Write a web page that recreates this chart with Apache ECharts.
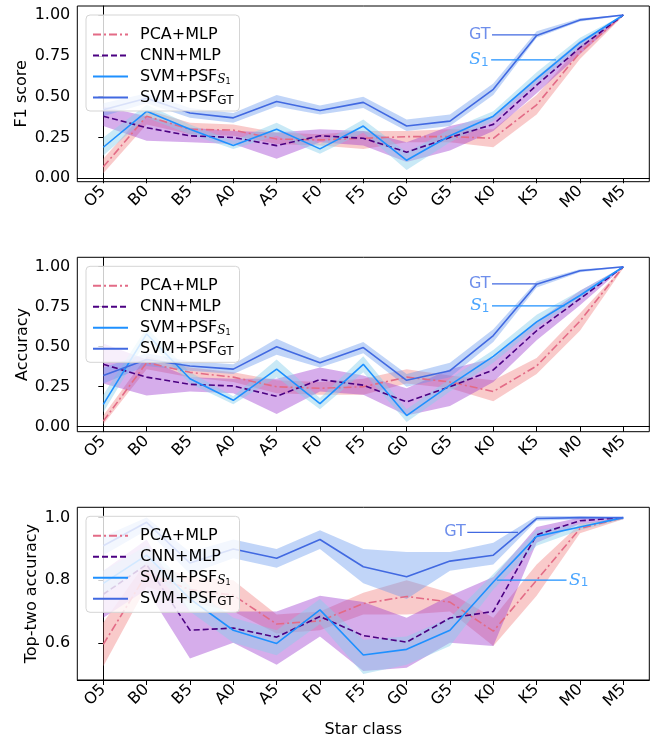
<!DOCTYPE html>
<html><head><meta charset="utf-8">
<script src="https://cdn.jsdelivr.net/npm/echarts@6/dist/echarts.min.js"></script>
<style>html,body{margin:0;padding:0;background:#fff}#c{width:666px;height:739px}</style>
</head><body><div id="c"></div>
<script>
const classes = ['O5','B0','B5','A0','A5','F0','F5','G0','G5','K0','K5','M0','M5'];
const names = ['PCA+MLP','CNN+MLP','SVM+PSF_S1','SVM+PSF_GT'];

// F1 score
const f1_pca    = [0.07,0.38,0.30,0.295,0.24,0.235,0.245,0.255,0.255,0.245,0.45,0.77,1.0];
const f1_pca_lo = [0.03,0.33,0.27,0.26,0.21,0.20,0.18,0.22,0.22,0.19,0.39,0.73,0.995];
const f1_pca_hi = [0.12,0.42,0.34,0.33,0.28,0.27,0.29,0.29,0.30,0.30,0.51,0.81,1.0];
const f1_cnn    = [0.38,0.31,0.26,0.25,0.20,0.26,0.245,0.16,0.25,0.33,0.57,0.80,1.0];
const f1_cnn_lo = [0.32,0.23,0.22,0.21,0.12,0.22,0.20,0.10,0.17,0.29,0.52,0.76,0.995];
const f1_cnn_hi = [0.44,0.38,0.31,0.29,0.28,0.30,0.29,0.22,0.32,0.38,0.62,0.84,1.0];
const f1_s1     = [0.19,0.41,0.30,0.20,0.30,0.18,0.32,0.11,0.26,0.38,0.61,0.83,1.0];
const f1_s1_lo  = [0.14,0.37,0.27,0.18,0.26,0.15,0.28,0.05,0.22,0.35,0.58,0.80,0.995];
const f1_s1_hi  = [0.25,0.45,0.33,0.23,0.34,0.21,0.36,0.16,0.30,0.41,0.65,0.86,1.0];
const f1_gt     = [0.42,0.49,0.40,0.37,0.47,0.415,0.465,0.32,0.35,0.545,0.875,0.97,1.0];
const f1_gt_lo  = [0.38,0.46,0.37,0.34,0.44,0.39,0.43,0.29,0.32,0.51,0.86,0.96,0.995];
const f1_gt_hi  = [0.46,0.52,0.43,0.40,0.51,0.445,0.50,0.36,0.39,0.58,0.90,0.98,1.0];

// Accuracy
const acc_pca    = [0.035,0.40,0.34,0.31,0.25,0.24,0.25,0.31,0.28,0.22,0.38,0.66,1.0];
const acc_pca_lo = [0.015,0.36,0.31,0.28,0.21,0.20,0.20,0.27,0.24,0.16,0.33,0.60,0.99];
const acc_pca_hi = [0.07,0.44,0.37,0.34,0.29,0.28,0.30,0.36,0.32,0.29,0.43,0.71,1.0];
const acc_cnn    = [0.39,0.31,0.265,0.255,0.19,0.295,0.26,0.155,0.25,0.355,0.60,0.80,1.0];
const acc_cnn_lo = [0.27,0.195,0.22,0.21,0.08,0.22,0.20,0.07,0.13,0.28,0.54,0.76,0.995];
const acc_cnn_hi = [0.52,0.42,0.31,0.30,0.30,0.37,0.32,0.24,0.36,0.43,0.66,0.85,1.0];
const acc_s1     = [0.14,0.58,0.30,0.165,0.36,0.145,0.39,0.07,0.26,0.44,0.655,0.82,1.0];
const acc_s1_lo  = [0.09,0.54,0.27,0.14,0.31,0.11,0.34,0.03,0.22,0.40,0.62,0.80,0.995];
const acc_s1_hi  = [0.20,0.62,0.34,0.19,0.42,0.18,0.44,0.11,0.30,0.48,0.70,0.85,1.0];
const acc_gt     = [0.32,0.42,0.38,0.36,0.50,0.40,0.495,0.29,0.35,0.57,0.89,0.975,1.0];
const acc_gt_lo  = [0.27,0.38,0.35,0.33,0.45,0.37,0.46,0.25,0.31,0.53,0.87,0.965,0.995];
const acc_gt_hi  = [0.37,0.46,0.41,0.39,0.55,0.43,0.53,0.33,0.40,0.61,0.91,0.985,1.0];

// Top-two accuracy
const t2_pca    = [0.595,0.82,0.77,0.752,0.66,0.67,0.725,0.748,0.73,0.637,0.80,0.965,1.0];
const t2_pca_lo = [0.525,0.78,0.73,0.70,0.63,0.64,0.69,0.69,0.70,0.59,0.75,0.95,0.995];
const t2_pca_hi = [0.665,0.86,0.81,0.80,0.69,0.70,0.76,0.80,0.76,0.68,0.85,0.98,1.0];
const t2_cnn    = [0.755,0.85,0.64,0.647,0.618,0.684,0.623,0.602,0.679,0.70,0.945,0.99,1.0];
const t2_cnn_lo = [0.68,0.77,0.55,0.60,0.53,0.62,0.51,0.52,0.60,0.59,0.92,0.98,0.995];
const t2_cnn_hi = [0.83,0.93,0.70,0.70,0.70,0.75,0.73,0.68,0.75,0.81,0.97,1.0,1.0];
const t2_s1     = [0.79,0.88,0.74,0.64,0.598,0.705,0.561,0.579,0.64,0.794,0.94,0.97,1.0];
const t2_s1_lo  = [0.75,0.85,0.70,0.60,0.56,0.66,0.50,0.53,0.59,0.77,0.91,0.96,0.995];
const t2_s1_hi  = [0.83,0.91,0.78,0.68,0.64,0.74,0.61,0.62,0.68,0.82,0.96,0.98,1.0];
const t2_gt     = [0.91,0.985,0.855,0.90,0.87,0.93,0.843,0.811,0.861,0.88,0.997,1.0,1.0];
const t2_gt_lo  = [0.88,0.96,0.82,0.87,0.84,0.90,0.79,0.74,0.83,0.85,0.99,0.995,0.998];
const t2_gt_hi  = [0.94,1.0,0.89,0.93,0.90,0.96,0.90,0.89,0.89,0.92,1.005,1.005,1.0];

// y-axis labels
const yTitles = ['F1 score','Accuracy','Top-two accuracy'];
const yTicks = [[0,0.25,0.5,0.75,1.0],[0,0.25,0.5,0.75,1.0],[0.6,0.8,1.0]];
const yDecimals = [2,2,1];

// annotation anchors [x0, x1, y] per panel
const annGT = [[8.97,10.0,0.878],[8.97,10.0,0.893],[8.40,9.57,0.953]];
const annS1 = [[8.95,10.45,0.725],[8.97,10.65,0.755],[9.08,10.69,0.80]];

const FONT = 'DejaVu Sans';
const panels = [
  {m:[f1_pca,f1_cnn,f1_s1,f1_gt], lo:[f1_pca_lo,f1_cnn_lo,f1_s1_lo,f1_gt_lo], hi:[f1_pca_hi,f1_cnn_hi,f1_s1_hi,f1_gt_hi], top:6, h:175.7, ymin:-0.021, ymax:1.055, gap:47},
  {m:[acc_pca,acc_cnn,acc_s1,acc_gt], lo:[acc_pca_lo,acc_cnn_lo,acc_s1_lo,acc_gt_lo], hi:[acc_pca_hi,acc_cnn_hi,acc_s1_hi,acc_gt_hi], top:257.3, h:174.4, ymin:-0.031, ymax:1.059, gap:46},
  {m:[t2_pca,t2_cnn,t2_s1,t2_gt], lo:[t2_pca_lo,t2_cnn_lo,t2_s1_lo,t2_gt_lo], hi:[t2_pca_hi,t2_cnn_hi,t2_s1_hi,t2_gt_hi], top:507.3, h:175.4, ymin:0.481, ymax:1.033, gap:37}
];
const lineColors = ['#e36b86','#4b0082','#1e90ff','#4169e1'];
const bandColors = ['rgba(240,128,128,0.42)','rgba(153,50,204,0.40)','rgba(135,206,235,0.45)','rgba(100,149,237,0.40)'];
const dashes = [[8,3,2,3],[6,3],'solid','solid'];

const idx = classes.map((_, i) => i);
const grid = [], xAxis = [], yAxis = [], series = [], legend = [];

panels.forEach((p, g) => {
  grid.push({left:77.3, width:572, top:p.top, height:p.h, show:true, borderColor:'#000', borderWidth:1, backgroundColor:'transparent'});
  xAxis.push({
    type:'value', gridIndex:g, min:-0.6, max:12.6,
    name: g===2 ? 'Star class' : '', nameLocation:'middle', nameGap:42,
    nameTextStyle:{fontFamily:FONT, fontSize:16, color:'#000'},
    axisLine:{show:true, lineStyle:{color:'#000', width:1}},
    axisTick:{show:true, customValues:idx, length:5, lineStyle:{color:'#000'}},
    axisLabel:{customValues:idx, formatter:v => classes[Math.round(v)], rotate:45, fontFamily:FONT, fontSize:16, color:'#000', margin:7},
    splitLine:{show:false}
  });
  yAxis.push({
    type:'value', gridIndex:g, min:p.ymin, max:p.ymax,
    name:yTitles[g], nameLocation:'middle', nameGap:p.gap, nameMoveOverlap:false,
    nameTextStyle:{fontFamily:FONT, fontSize:16, color:'#000'},
    axisLine:{show:true, lineStyle:{color:'#000', width:1}},
    axisTick:{show:true, customValues:yTicks[g], length:5, lineStyle:{color:'#000'}},
    axisLabel:{customValues:yTicks[g], formatter:v => v.toFixed(yDecimals[g]), fontFamily:FONT, fontSize:16, color:'#000', margin:7},
    splitLine:{show:false}
  });
  for (let k = 0; k < 4; k++) {
    const lo = p.lo[k], hi = p.hi[k];
    series.push({
      type:'custom', name:'band'+g+k, xAxisIndex:g, yAxisIndex:g, coordinateSystem:'cartesian2d',
      data:[[0, lo[0]]], silent:true, z:2,
      renderItem:(params, api) => {
        const pts = [];
        for (let i = 0; i < lo.length; i++) pts.push(api.coord([i, hi[i]]));
        for (let i = lo.length - 1; i >= 0; i--) pts.push(api.coord([i, lo[i]]));
        return {type:'polygon', shape:{points:pts}, style:{fill:bandColors[k], stroke:null}};
      }
    });
    series.push({
      type:'line', name:names[k], xAxisIndex:g, yAxisIndex:g,
      data:p.m[k].map((v, i) => [i, v]), symbol:'none', z:3,
      lineStyle:{color:lineColors[k], width:1.6, type:dashes[k]}, itemStyle:{color:lineColors[k]},
      emphasis:{disabled:true}
    });
  }
  // annotations
  const a = annGT[g], s = annS1[g];
  series.push({type:'line', name:'annGT'+g, xAxisIndex:g, yAxisIndex:g, data:[[a[0],a[2]],[a[1],a[2]]], symbol:'none', z:4, lineStyle:{color:'#4169e1', width:1.3}, silent:true});
  series.push({type:'line', name:'annS1'+g, xAxisIndex:g, yAxisIndex:g, data:[[s[0],s[2]],[s[1],s[2]]], symbol:'none', z:4, lineStyle:{color:'#1e90ff', width:1.3}, silent:true});
  const s1Left = g < 2;
  series.push({type:'scatter', name:'annTxt'+g, xAxisIndex:g, yAxisIndex:g, symbolSize:1, itemStyle:{color:'rgba(0,0,0,0)'}, silent:true, z:5,
    data:[
      {value:[a[0],a[2]], label:{show:true, position:'left', distance:1, formatter:'GT', fontFamily:FONT, fontSize:16, color:'#4a72e6'}},
      {value:[s1Left ? s[0] : s[1], s[2]], label:{show:true, position: s1Left ? 'left' : 'right', distance:2, formatter:'{s|S}{n|1}', color:'#1e90ff',
        rich:{s:{fontFamily:'DejaVu Serif', fontStyle:'italic', fontSize:17, color:'#1e90ff'}, n:{fontFamily:FONT, fontSize:12, color:'#1e90ff', verticalAlign:'bottom', lineHeight:14, padding:[6,0,0,0]}}}}
    ]
  });
  legend.push({
    top:p.top + 9, left:86, orient:'vertical', data:names, selectedMode:false,
    itemWidth:35, itemHeight:14, itemGap:2, padding:[10,6,4,6],
    itemStyle:{opacity:0, color:'rgba(0,0,0,0)', borderWidth:0},
    backgroundColor:'rgba(255,255,255,0.8)', borderColor:'#d5d5d5', borderWidth:1, borderRadius:4,
    textStyle:{fontFamily:FONT, fontSize:16, color:'#000', lineHeight:19, padding:[0,0,0,7],
      rich:{
        s:{fontFamily:'DejaVu Serif', fontStyle:'italic', fontSize:12, color:'#000', verticalAlign:'bottom', lineHeight:14, padding:[5,0,0,0]},
        n:{fontFamily:FONT, fontSize:8, color:'#000', verticalAlign:'bottom', lineHeight:10, padding:[9,0,0,0]},
        g:{fontFamily:FONT, fontSize:12, color:'#000', verticalAlign:'bottom', lineHeight:14, padding:[6,0,0,0]}
      }},
    formatter:n => n === 'SVM+PSF_S1' ? 'SVM+PSF{s|S}{n|1}' : (n === 'SVM+PSF_GT' ? 'SVM+PSF{g|GT}' : n)
  });
});

const chart = echarts.init(document.getElementById('c'), null, {renderer:'canvas'});
chart.setOption({animation:false, backgroundColor:'#fff', grid, xAxis, yAxis, series, legend});
</script></body></html>
